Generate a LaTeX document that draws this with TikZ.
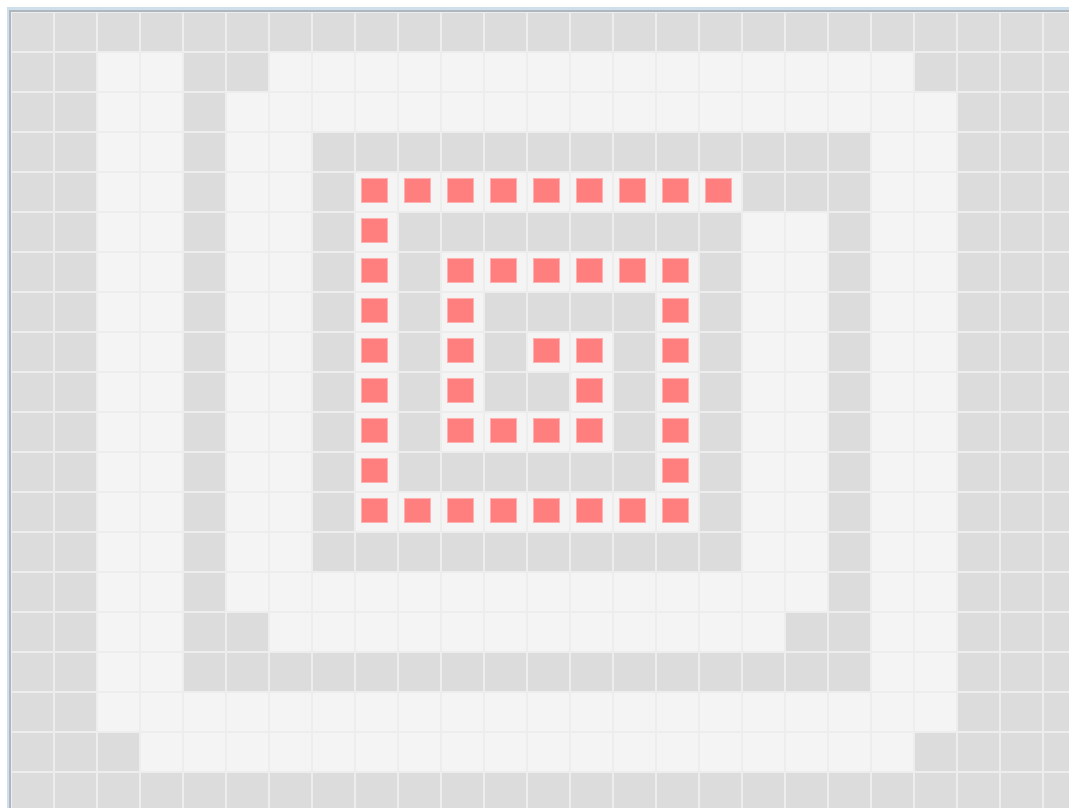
\documentclass[tikz,border=0pt]{standalone}
\definecolor{cgray}{HTML}{DCDCDC}
\definecolor{cwhite}{HTML}{F4F4F4}
\definecolor{cgap}{HTML}{EDEDED}
\definecolor{cred}{HTML}{FF7F7F}
\definecolor{credline}{HTML}{FFB0B0}
\definecolor{cblue}{HTML}{CFE0EC}
\definecolor{cframe}{HTML}{AEB6BE}
\tikzset{
  cellbox/.style={fill=#1},
  redmark/.style={fill=cred, draw=credline, line width=0.8pt},
}
\begin{document}
\begin{tikzpicture}[x=1pt,y=-1pt]
\useasboundingbox (0,0) rectangle (1069,808);
\fill[white] (0,0) rectangle (1069,808);
% frame
\fill[cblue] (7,7) rectangle (1069,10);
\fill[cblue] (7,7) rectangle (9,808);
\fill[cframe] (9,10) rectangle (1069,12);
\fill[cframe] (9,10) rectangle (11,808);
\fill[cgap] (11,12) rectangle (1069,808);
\foreach \row [count=\r from 0] in {
{G,G,G,G,G,G,G,G,G,G,G,G,G,G,G,G,G,G,G,G,G,G,G,G,G},
{G,G,W,W,G,G,W,W,W,W,W,W,W,W,W,W,W,W,W,W,W,G,G,G,G},
{G,G,W,W,G,W,W,W,W,W,W,W,W,W,W,W,W,W,W,W,W,W,G,G,G},
{G,G,W,W,G,W,W,G,G,G,G,G,G,G,G,G,G,G,G,G,W,W,G,G,G},
{G,G,W,W,G,W,W,G,R,R,R,R,R,R,R,R,R,G,G,G,W,W,G,G,G},
{G,G,W,W,G,W,W,G,R,G,G,G,G,G,G,G,G,W,W,G,W,W,G,G,G},
{G,G,W,W,G,W,W,G,R,G,R,R,R,R,R,R,G,W,W,G,W,W,G,G,G},
{G,G,W,W,G,W,W,G,R,G,R,G,G,G,G,R,G,W,W,G,W,W,G,G,G},
{G,G,W,W,G,W,W,G,R,G,R,G,R,R,G,R,G,W,W,G,W,W,G,G,G},
{G,G,W,W,G,W,W,G,R,G,R,G,G,R,G,R,G,W,W,G,W,W,G,G,G},
{G,G,W,W,G,W,W,G,R,G,R,R,R,R,G,R,G,W,W,G,W,W,G,G,G},
{G,G,W,W,G,W,W,G,R,G,G,G,G,G,G,R,G,W,W,G,W,W,G,G,G},
{G,G,W,W,G,W,W,G,R,R,R,R,R,R,R,R,G,W,W,G,W,W,G,G,G},
{G,G,W,W,G,W,W,G,G,G,G,G,G,G,G,G,G,W,W,G,W,W,G,G,G},
{G,G,W,W,G,W,W,W,W,W,W,W,W,W,W,W,W,W,W,G,W,W,G,G,G},
{G,G,W,W,G,G,W,W,W,W,W,W,W,W,W,W,W,W,G,G,W,W,G,G,G},
{G,G,W,W,G,G,G,G,G,G,G,G,G,G,G,G,G,G,G,G,W,W,G,G,G},
{G,G,W,W,W,W,W,W,W,W,W,W,W,W,W,W,W,W,W,W,W,W,G,G,G},
{G,G,G,W,W,W,W,W,W,W,W,W,W,W,W,W,W,W,W,W,W,G,G,G,G},
{G,G,G,G,G,G,G,G,G,G,G,G,G,G,G,G,G,G,G,G,G,G,G,G,G}} {
  \foreach \c [count=\i from 0] in \row {
    \pgfmathsetmacro{\xa}{11+43*\i}
    \pgfmathsetmacro{\ya}{12+40*\r}
    \if G\c \def\col{cgray}\else\def\col{cwhite}\fi
    \fill[cellbox=\col] (\xa+1,\ya+1) rectangle (\xa+42,\ya+39);
    \if R\c
      \filldraw[redmark] (\xa+6,\ya+6) rectangle (\xa+32,\ya+30);
    \fi
  }
}
\end{tikzpicture}
\end{document}
